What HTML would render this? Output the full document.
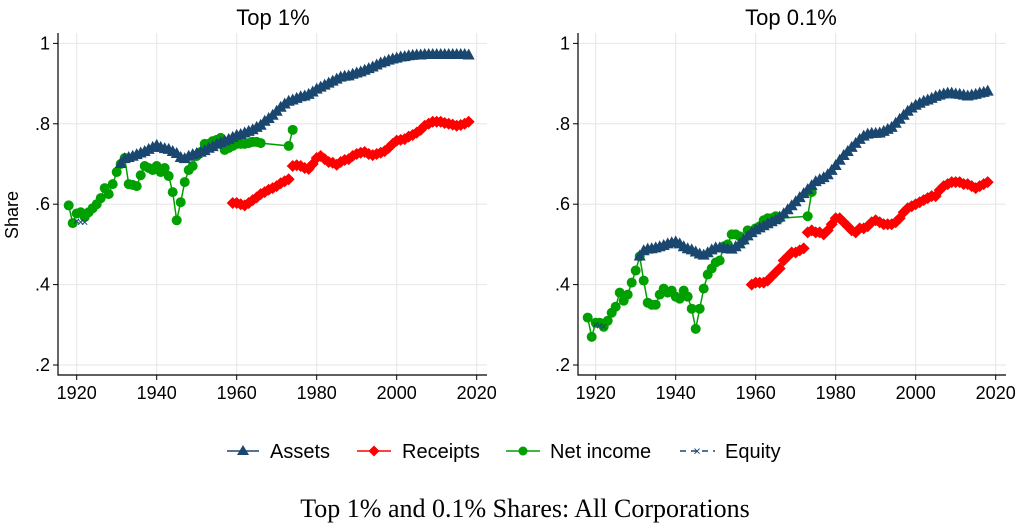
<!DOCTYPE html>
<html><head><meta charset="utf-8"><style>
html,body{margin:0;padding:0;background:#fff;}
svg{display:block;font-family:"Liberation Sans",sans-serif;}
</style></head><body>
<svg id="chart" width="1033" height="527" viewBox="0 0 1033 527">
<text x="273" y="25" font-size="22" text-anchor="middle" fill="#000">Top 1%</text>
<text x="791" y="25" font-size="22" text-anchor="middle" fill="#000">Top 0.1%</text>
<text transform="translate(18,215) rotate(-90)" font-size="18" text-anchor="middle" fill="#000">Share</text>
<g id="left"></g>
<g id="right"></g>
<g>
 <g>
  <line x1="227" y1="451" x2="259" y2="451" stroke="#1a476f" stroke-width="1.5"/>
  <polygon points="243,445 249,455 237,455" fill="#1a476f"/>
  <text x="270" y="458" font-size="20">Assets</text></g>
 <g>
  <line x1="357" y1="451" x2="391" y2="451" stroke="#ff0000" stroke-width="1.5"/>
  <polygon points="374,445.5 379.5,451 374,456.5 368.5,451" fill="#ff0000"/>
  <text x="402" y="458" font-size="20">Receipts</text></g>
 <g>
  <line x1="506" y1="451" x2="540" y2="451" stroke="#00a000" stroke-width="1.5"/>
  <circle cx="523" cy="451" r="4.5" fill="#00a000"/>
  <text x="550" y="458" font-size="20">Net income</text></g>
 <g>
  <line x1="680" y1="451" x2="715" y2="451" stroke="#1a476f" stroke-width="1.5" stroke-dasharray="6,5"/>
  <text x="697" y="455.5" font-size="13" text-anchor="middle" fill="#1a476f">×</text>
  <text x="725" y="458" font-size="20">Equity</text></g>
</g>
<text x="525" y="517" font-size="26" text-anchor="middle" font-family="'Liberation Serif',serif" fill="#000">Top 1% and 0.1% Shares: All Corporations</text>
</svg>
<script>
const yTicks=[0.2,0.4,0.6,0.8,1];
const yTickLabels=[".2",".4",".6",".8","1"];
const xTicks=[1920,1940,1960,1980,2000,2020];
const leftAssetsYears=[1931,1932,1933,1934,1935,1936,1937,1938,1939,1940,1941,1942,1943,1944,1945,1946,1947,1948,1949,1950,1951,1952,1953,1954,1955,1956,1957,1958,1959,1960,1961,1962,1963,1964,1965,1966,1967,1968,1969,1970,1971,1972,1973,1974,1975,1976,1977,1978,1979,1980,1981,1982,1983,1984,1985,1986,1987,1988,1989,1990,1991,1992,1993,1994,1995,1996,1997,1998,1999,2000,2001,2002,2003,2004,2005,2006,2007,2008,2009,2010,2011,2012,2013,2014,2015,2016,2017,2018];
const leftAssets=[.700,.712,.715,.718,.722,.726,.73,.735,.74,.745,.74,.737,.735,.73,.725,.715,.712,.718,.722,.725,.728,.732,.738,.742,.748,.752,.756,.76,.765,.77,.772,.776,.78,.784,.79,.795,.805,.812,.82,.83,.84,.848,.855,.858,.862,.866,.868,.872,.878,.885,.89,.895,.9,.905,.91,.915,.917,.918,.922,.925,.928,.932,.936,.94,.945,.95,.953,.957,.96,.962,.965,.966,.968,.969,.97,.97,.971,.971,.971,.971,.971,.971,.971,.971,.971,.971,.971,.97];
const leftReceiptsYears=[1959,1960,1961,1962,1963,1964,1965,1966,1967,1968,1969,1970,1971,1972,1973,1974,1975,1976,1977,1978,1979,1980,1981,1982,1983,1984,1985,1986,1987,1988,1989,1990,1991,1992,1993,1994,1995,1996,1997,1998,1999,2000,2001,2002,2003,2004,2005,2006,2007,2008,2009,2010,2011,2012,2013,2014,2015,2016,2017,2018];
const leftReceipts=[.603,.603,.6,.597,.603,.61,.617,.625,.63,.636,.64,.645,.652,.657,.662,.695,.697,.695,.69,.688,.7,.715,.72,.712,.705,.703,.698,.705,.71,.712,.72,.725,.728,.73,.725,.722,.725,.728,.732,.74,.75,.758,.76,.762,.768,.772,.778,.785,.795,.8,.805,.805,.805,.802,.8,.798,.795,.797,.8,.805];
const leftNetYears=[1918,1919,1920,1921,1922,1923,1924,1925,1926,1927,1928,1929,1930,1931,1932,1933,1934,1935,1936,1937,1938,1939,1940,1941,1942,1943,1944,1945,1946,1947,1948,1949,1950,1951,1952,1953,1954,1955,1956,1957,1958,1959,1960,1961,1962,1963,1964,1965,1966,1973,1974];
const leftNet=[.597,.553,.577,.58,.568,.58,.59,.60,.615,.64,.625,.65,.68,.70,.715,.65,.648,.645,.672,.695,.69,.685,.695,.68,.69,.67,.63,.56,.605,.655,.685,.695,.72,.73,.75,.75,.757,.76,.765,.735,.74,.745,.75,.75,.75,.752,.755,.755,.752,.745,.785];
const leftEquityYears=[1920,1921,1922];
const leftEquity=[.557,.555,.555];
const rightAssetsYears=leftAssetsYears;
const rightAssets=[.47,.483,.487,.488,.49,.493,.496,.5,.503,.505,.5,.493,.488,.485,.48,.475,.472,.478,.485,.49,.49,.49,.488,.487,.493,.5,.51,.52,.528,.535,.54,.545,.55,.555,.56,.567,.575,.585,.595,.605,.615,.625,.635,.645,.655,.66,.665,.672,.683,.695,.708,.72,.73,.74,.75,.76,.768,.773,.775,.775,.776,.78,.785,.79,.8,.81,.82,.83,.838,.845,.85,.855,.858,.862,.867,.87,.873,.875,.875,.873,.872,.87,.868,.87,.872,.875,.877,.88];
const rightReceiptsYears=leftReceiptsYears;
const rightReceipts=[.40,.405,.405,.405,.41,.42,.43,.44,.46,.47,.48,.48,.485,.49,.53,.535,.53,.53,.525,.535,.55,.565,.565,.555,.545,.535,.53,.54,.54,.545,.555,.56,.555,.55,.55,.55,.555,.565,.58,.59,.595,.6,.605,.61,.615,.62,.62,.635,.645,.65,.655,.655,.655,.65,.65,.645,.64,.645,.65,.655];
const rightNetYears=leftNetYears;
const rightNet=[.318,.27,.305,.305,.295,.31,.33,.345,.38,.36,.375,.405,.435,.47,.41,.355,.35,.35,.375,.39,.38,.385,.37,.365,.385,.37,.34,.29,.34,.39,.425,.44,.455,.46,.495,.5,.525,.525,.52,.51,.535,.53,.54,.545,.56,.565,.565,.57,.565,.57,.63];
const rightEquityYears=[1920,1921,1922];
const rightEquity=[.30,.297,.295];

const NS="http://www.w3.org/2000/svg";
function mk(parent,tag,attrs){const e=document.createElementNS(NS,tag);for(const k in attrs)e.setAttribute(k,attrs[k]);parent.appendChild(e);return e;}
function panel(g,x0,axisX,rightX,prefix,assetsY,assets,recY,rec,netY,net,eqY,eq){
 const xs=v=>x0+(v-1920)*4;
 const ys=v=>365-(v-0.2)*402;
 yTicks.forEach((t,i)=>{
  const l=mk(g,'line',{x1:axisX,x2:rightX,y1:ys(t),y2:ys(t),stroke:'#e6e6e6','stroke-width':1});
  
  
  mk(g,'line',{x1:axisX-5,x2:axisX,y1:ys(t),y2:ys(t),stroke:'#000','stroke-width':1});
  const tx=mk(g,'text',{x:axisX-8,y:ys(t)+6,'font-size':18,'text-anchor':'end'});
  tx.textContent=yTickLabels[i];
  
  
 });
 xTicks.forEach(t=>{
  const l=mk(g,'line',{x1:xs(t),x2:xs(t),y1:33,y2:375,stroke:'#e6e6e6','stroke-width':1});
  
  
  mk(g,'line',{x1:xs(t),x2:xs(t),y1:375,y2:380,stroke:'#000','stroke-width':1});
  const tx=mk(g,'text',{x:xs(t),y:399,'font-size':18,'text-anchor':'middle'});
  tx.textContent=t;
  
  
 });
 const ax=mk(g,'path',{d:`M${axisX},33V375H${rightX}`,fill:'none',stroke:'#000','stroke-width':1.2});
 
 
 const np=mk(g,'polyline',{points:netY.map((y,i)=>xs(y)+','+ys(net[i])).join(' '),fill:'none',stroke:'#00a000','stroke-width':1.5});
 
 
 netY.forEach((y,i)=>{
  const c=mk(g,'circle',{cx:xs(y),cy:ys(net[i]),r:5,fill:'#00a000'});
  
  
 });
 eqY.forEach((y,i)=>{
  const t=mk(g,'text',{x:xs(y),y:ys(eq[i])+4,'font-size':13,'text-anchor':'middle',fill:'#1a476f'});
  t.textContent='×';
  
  
 });
 recY.forEach((y,i)=>{
  const cx=xs(y),cy=ys(rec[i]);
  const p=mk(g,'polygon',{points:`${cx},${cy-6} ${cx+6},${cy} ${cx},${cy+6} ${cx-6},${cy}`,fill:'#ff0000'});
  
  
 });
 assetsY.forEach((y,i)=>{
  const cx=xs(y),cy=ys(assets[i]);
  const p=mk(g,'polygon',{points:`${cx},${cy-7} ${cx+6},${cy+4} ${cx-6},${cy+4}`,fill:'#1a476f'});
  
  
 });
}
panel(document.getElementById('left'),76.7,58,487,'left',leftAssetsYears,leftAssets,leftReceiptsYears,leftReceipts,leftNetYears,leftNet,leftEquityYears,leftEquity);
panel(document.getElementById('right'),595.7,578,1006,'right',rightAssetsYears,rightAssets,rightReceiptsYears,rightReceipts,rightNetYears,rightNet,rightEquityYears,rightEquity);
</script>
</body></html>
